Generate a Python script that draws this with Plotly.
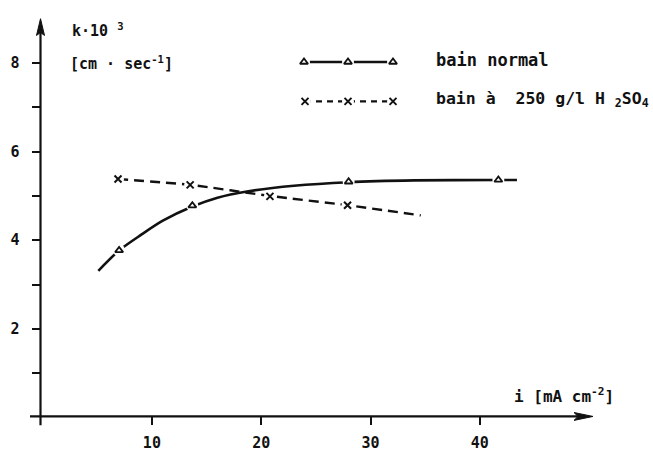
import plotly.graph_objects as go

# ---- data ----
normal_i = [7.0, 13.7, 28.0, 41.7]
normal_k = [3.77, 4.78, 5.32, 5.36]
normal_curve_i = [5.1, 7.0, 9.0, 11.0, 13.7, 16.0, 18.7, 23.0, 28.0, 34.0, 41.7, 43.4]
normal_curve_k = [3.31, 3.77, 4.12, 4.44, 4.76, 4.96, 5.10, 5.23, 5.31, 5.35, 5.36, 5.36]

acid_i = [6.9, 13.5, 20.8, 27.9]
acid_k = [5.38, 5.25, 4.99, 4.79]
acid_curve_i = [6.9, 13.5, 20.8, 27.9, 34.6]
acid_curve_k = [5.38, 5.25, 5.00, 4.79, 4.56]

x_ticks = [10, 20, 30, 40]
y_ticks = [2, 4, 6, 8]
y_minor_ticks = [1, 3, 5, 7]

# ---- pixel geometry ----
W, H = 653, 452
X0, SX = 42.6, 10.93   # pixel of i=0, px per unit
Y0, SY = 424.0, 45.0   # pixel of k=0, px per unit
AX_X = 40.5            # pixel column of the k axis
AX_Y = 423.0           # pixel row of the i axis


def dx(px):
    return (px - X0) / SX


def dy(py):
    return (Y0 - py) / SY


FONT = "DejaVu Sans Mono"
INK = "#111111"

fig = go.Figure()

# curves
fig.add_trace(go.Scatter(x=normal_curve_i, y=normal_curve_k, mode="lines",
                         line=dict(color=INK, width=2.6, shape="spline", smoothing=0.8),
                         hoverinfo="skip", showlegend=False))
fig.add_trace(go.Scatter(x=acid_curve_i, y=acid_curve_k, mode="lines",
                         line=dict(color=INK, width=2.4, dash="10px,6px", shape="spline", smoothing=0.6),
                         hoverinfo="skip", showlegend=False))

# legend sample lines
leg1_x = [dx(304), dx(348), dx(393)]
leg1_y = [dy(63)] * 3
leg2_x = [dx(305), dx(348), dx(393)]
leg2_y = [dy(103)] * 3
fig.add_trace(go.Scatter(x=leg1_x, y=leg1_y, mode="lines",
                         line=dict(color=INK, width=2.6), hoverinfo="skip", showlegend=False))
fig.add_trace(go.Scatter(x=leg2_x, y=leg2_y, mode="lines",
                         line=dict(color=INK, width=2.2, dash="6px,5px"), hoverinfo="skip", showlegend=False))

# white gaps around markers
gx = normal_i + acid_i + leg1_x + leg2_x
gy = normal_k + acid_k + leg1_y + leg2_y
fig.add_trace(go.Scatter(x=gx, y=gy, mode="markers",
                         marker=dict(symbol="circle", size=12, color="white"),
                         hoverinfo="skip", showlegend=False))

# markers
fig.add_trace(go.Scatter(x=normal_i + leg1_x, y=normal_k + leg1_y, mode="markers",
                         marker=dict(symbol="triangle-up", size=7, color="white",
                                     line=dict(color=INK, width=1.8)),
                         showlegend=False))
fig.add_trace(go.Scatter(x=acid_i + leg2_x, y=acid_k + leg2_y, mode="markers",
                         marker=dict(symbol="x-thin", size=7,
                                     line=dict(color=INK, width=2)),
                         showlegend=False))

# axis lines with arrowheads (shapes)
def P(px, py):
    return f"{dx(px)},{dy(py)}"

fig.add_shape(type="line", x0=dx(AX_X), x1=dx(AX_X), y0=dy(432), y1=dy(30),
              line=dict(color=INK, width=2.2))
fig.add_shape(type="path",
              path=f"M{P(AX_X, 19)} L{P(AX_X - 4, 36)} L{P(AX_X, 33)} L{P(AX_X + 4, 36)} Z",
              fillcolor=INK, line=dict(color=INK, width=1))
fig.add_shape(type="line", x0=dx(30), x1=dx(582), y0=dy(AX_Y), y1=dy(AX_Y),
              line=dict(color=INK, width=2.2))
fig.add_shape(type="path",
              path=f"M{P(593, AX_Y)} L{P(574, AX_Y - 4)} L{P(578, AX_Y)} L{P(574, AX_Y + 4)} Z",
              fillcolor=INK, line=dict(color=INK, width=1))

# texts
fig.add_annotation(x=dx(70), y=dy(30), text="k·10 <sup>3</sup>", showarrow=False,
                   xanchor="left", yanchor="middle",
                   font=dict(family=FONT, size=15, color=INK, weight="bold"))
fig.add_annotation(x=dx(68), y=dy(64), text="[cm · sec<sup>-1</sup>]", showarrow=False,
                   xanchor="left", yanchor="middle",
                   font=dict(family=FONT, size=15, color=INK, weight="bold"))
fig.add_annotation(x=dx(434), y=dy(61), text="bain normal", showarrow=False,
                   xanchor="left", yanchor="middle",
                   font=dict(family=FONT, size=17, color=INK, weight="bold"))
fig.add_annotation(x=dx(434), y=dy(101), text="bain à  250 g/l H <sub>2</sub>SO<sub>4</sub>",
                   showarrow=False, xanchor="left", yanchor="middle",
                   font=dict(family=FONT, size=16.5, color=INK, weight="bold"))
fig.add_annotation(x=dx(512), y=dy(402), text="i [mA cm<sup>-2</sup>]", showarrow=False,
                   xanchor="left", yanchor="middle",
                   font=dict(family=FONT, size=16, color=INK, weight="bold"))

tickfont = dict(family=FONT, size=15, color=INK, weight="bold")
fig.update_layout(
    width=W, height=H,
    margin=dict(l=0, r=0, t=0, b=0),
    paper_bgcolor="white", plot_bgcolor="white",
    showlegend=False,
    xaxis=dict(range=[dx(0), dx(W)], domain=[0, 1], anchor="free", position=(H - AX_Y) / H,
               showline=False, showgrid=False, zeroline=False,
               ticks="outside", ticklen=8, tickwidth=2, tickcolor=INK,
               tickvals=x_ticks, ticktext=[str(v) for v in x_ticks],
               tickfont=tickfont, ticklabelstandoff=5),
    yaxis=dict(range=[dy(H), dy(0)], domain=[0, 1], anchor="free", position=AX_X / W,
               showline=False, showgrid=False, zeroline=False,
               ticks="outside", ticklen=9, tickwidth=2, tickcolor=INK,
               tickvals=y_ticks, ticktext=[str(v) for v in y_ticks],
               minor=dict(tickvals=y_minor_ticks, ticks="outside", ticklen=9,
                          tickwidth=2, tickcolor=INK, showgrid=False),
               tickfont=tickfont, ticklabelstandoff=9),
)

fig.write_html("out.html")
